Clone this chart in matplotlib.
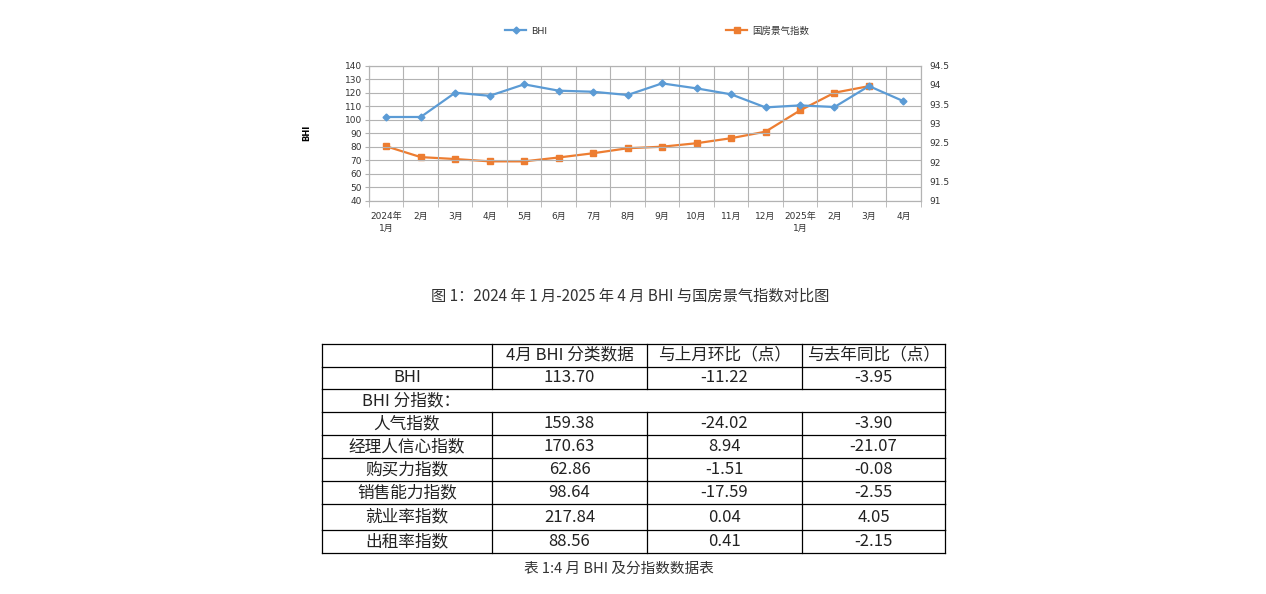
import matplotlib
matplotlib.use("Agg")
import matplotlib.pyplot as plt
from matplotlib.ticker import FixedLocator, FuncFormatter

plt.rcParams['font.family'] = ['DejaVu Sans', 'Noto Sans CJK SC']

# chart data
months = ["2024年\n1月", "2月", "3月", "4月", "5月", "6月", "7月", "8月", "9月",
          "10月", "11月", "12月", "2025年\n1月", "2月", "3月", "4月"]
bhi = [102.0, 102.0, 120.0, 117.7, 126.2, 121.5, 120.7, 118.3, 126.9,
       123.2, 118.8, 109.1, 110.6, 109.4, 124.92, 113.70]
guofang = [92.41, 92.13, 92.08, 92.02, 92.02, 92.12, 92.23, 92.36, 92.40,
           92.49, 92.62, 92.79, 93.34, 93.80, 93.97]

# table data
table_header = ["", "4月 BHI 分类数据", "与上月环比（点）", "与去年同比（点）"]
row_names = ["人气指数", "经理人信心指数", "购买力指数", "销售能力指数", "就业率指数", "出租率指数"]
april_vals = ["159.38", "170.63", "62.86", "98.64", "217.84", "88.56"]
mom_vals = ["-24.02", "8.94", "-1.51", "-17.59", "0.04", "0.41"]
yoy_vals = ["-3.90", "-21.07", "-0.08", "-2.55", "4.05", "-2.15"]
bhi_row = ["BHI", "113.70", "-11.22", "-3.95"]

W, H = 1266, 594
fig = plt.figure(figsize=(W / 100, H / 100), dpi=100)

blue = "#5b9bd5"
orange = "#ed7d31"
grid_c = "#b3b3b3"

# ---- line chart ----
ax = fig.add_axes([369 / W, 1 - 200.7 / H, (920.7 - 369) / W, 135 / H])
ax2 = ax.twinx()
x = list(range(len(months)))
ax.plot(x, bhi, color=blue, lw=1.6, marker="D", ms=3.5, label="BHI", zorder=3)
ax2.plot(x[:len(guofang)], guofang, color=orange, lw=1.6, marker="s", ms=4.5,
         label="国房景气指数", zorder=3)

ax.set_xlim(-0.5, len(months) - 0.5)
ax.set_ylim(40, 140)
ax.set_yticks(range(40, 141, 10))
ax2.set_ylim(91, 94.5)
ax2.set_yticks([91 + 0.5 * i for i in range(8)])
ax2.yaxis.set_major_formatter(FuncFormatter(lambda v, p: f"{v:g}"))

ax.set_xticks(x)
ax.set_xticklabels(months, fontsize=6.5, linespacing=1.5)
ax.xaxis.set_minor_locator(FixedLocator([i + 0.5 for i in range(-1, len(months))]))
ax.tick_params(axis="x", which="major", length=0, pad=8)
ax.tick_params(axis="x", which="minor", length=4, color=grid_c)
ax.tick_params(axis="y", labelsize=6.5, length=3, color=grid_c, pad=2, labelcolor="#333333")
ax2.tick_params(axis="y", labelsize=6.5, length=0, pad=6, labelcolor="#333333")
for lab in ax.get_xticklabels():
    lab.set_color("#333333")

ax.grid(True, axis="y", color=grid_c, lw=0.8)
ax.grid(True, axis="x", which="minor", color=grid_c, lw=0.8)
for a in (ax, ax2):
    for s in a.spines.values():
        s.set_color(grid_c)
        s.set_linewidth(0.8)
ax.set_zorder(ax2.get_zorder() + 1)
ax.patch.set_visible(False)

ax.set_ylabel("BHI", fontsize=6, fontweight="bold", labelpad=24)

h1, l1 = ax.get_legend_handles_labels()
h2, l2 = ax2.get_legend_handles_labels()
fig.legend(h1 + h2, l1 + l2, loc="center", bbox_to_anchor=(657 / W, 1 - 31 / H),
           ncol=2, frameon=False, fontsize=6.8, columnspacing=19, handlelength=2.2,
           handletextpad=0.5, labelcolor="#333333")

# ---- captions ----
cjk = ['Noto Sans CJK SC', 'DejaVu Sans']
fig.text(630 / W, 1 - 296 / H, "图 1：2024 年 1 月-2025 年 4 月 BHI 与国房景气指数对比图",
         ha="center", va="center", fontsize=11, family=cjk, color="#333333")
fig.text(619 / W, 1 - 569 / H, "表 1:4 月 BHI 及分指数数据表",
         ha="center", va="center", fontsize=10.5, family=cjk, color="#333333")

# ---- table ----
col_edges = [322, 492, 647, 802, 945]
row_edges = [344, 366.5, 389, 412, 435, 458, 481, 504, 530, 553]
tx = fig.add_axes([322 / W, 1 - 553 / H, (945 - 322) / W, (553 - 344) / H])
tx.set_xlim(col_edges[0], col_edges[-1])
tx.set_ylim(row_edges[-1], row_edges[0])
tx.axis("off")

lw = 0.9
for y in row_edges:
    tx.plot([col_edges[0], col_edges[-1]], [y, y], color="black", lw=lw, clip_on=False)
for i, xe in enumerate(col_edges):
    for r in range(len(row_edges) - 1):
        if r == 2 and 0 < i < len(col_edges) - 1:
            continue  # merged "BHI 分指数" row
        tx.plot([xe, xe], [row_edges[r], row_edges[r + 1]], color="black", lw=lw,
                clip_on=False)

centers = [(col_edges[i] + col_edges[i + 1]) / 2 for i in range(4)]


def put_row(r, cells):
    yc = (row_edges[r] + row_edges[r + 1]) / 2
    for c, txt in enumerate(cells):
        tx.text(centers[c], yc, txt, ha="center", va="center", fontsize=12,
                family=cjk, color="#222222")


put_row(0, table_header)
put_row(1, bhi_row)
tx.text(362, (row_edges[2] + row_edges[3]) / 2, "BHI 分指数：", ha="left", va="center",
        fontsize=12, family=cjk, color="#222222")
for k in range(len(row_names)):
    put_row(3 + k, [row_names[k], april_vals[k], mom_vals[k], yoy_vals[k]])

fig.savefig("out.png", dpi=100)
